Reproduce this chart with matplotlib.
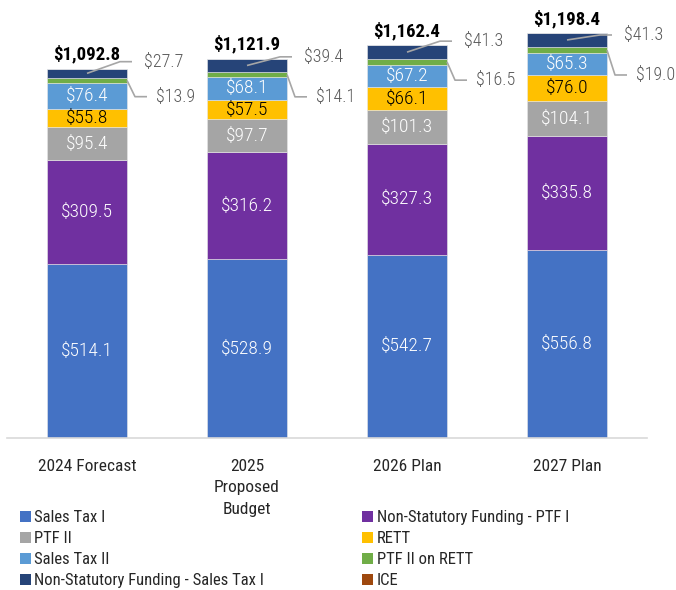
import matplotlib
matplotlib.use("Agg")
import matplotlib.pyplot as plt
from matplotlib.patches import Patch
import numpy as np

plt.rcParams['font.family'] = ['Roboto Condensed', 'DejaVu Sans']

categories = ["2024 Forecast", "2025\nProposed\nBudget", "2026 Plan", "2027 Plan"]
series_names = ["Sales Tax I", "Non-Statutory Funding - PTF I", "PTF II", "RETT",
                "Sales Tax II", "PTF II on RETT", "Non-Statutory Funding - Sales Tax I", "ICE"]
sales_tax_1 = [514.1, 528.9, 542.7, 556.8]
nsf_ptf_1 = [309.5, 316.2, 327.3, 335.8]
ptf_2 = [95.4, 97.7, 101.3, 104.1]
rett = [55.8, 57.5, 66.1, 76.0]
sales_tax_2 = [76.4, 68.1, 67.2, 65.3]
ptf_2_rett = [13.9, 14.1, 16.5, 19.0]
nsf_sales_tax_1 = [27.7, 39.4, 41.3, 41.3]
ice = [0.0, 0.0, 0.0, 0.0]
totals = [1092.8, 1121.9, 1162.4, 1198.4]

colors = ["#4472C4", "#7030A0", "#A5A5A5", "#FFC000",
          "#5B9BD5", "#70AD47", "#264478", "#9E480E"]
label_colors = ["white", "white", "white", "black", "white", None, None, None]

series = [sales_tax_1, nsf_ptf_1, ptf_2, rett, sales_tax_2, ptf_2_rett, nsf_sales_tax_1, ice]

fig = plt.figure(figsize=(6.76, 5.90), dpi=100)
ymax = 1296
ax = fig.add_axes([7 / 676, 152 / 590, 640 / 676, 438 / 590])
x = np.arange(len(categories))
width = 0.5

bottom = np.zeros(len(categories))
for vals, col, lc in zip(series, colors, label_colors):
    vals = np.array(vals)
    ax.bar(x, vals, width, bottom=bottom, color=col, edgecolor="#E8E8E8", linewidth=0.4)
    if lc is not None:
        for xi, b, v in zip(x, bottom, vals):
            ax.text(xi, b + v / 2, f"${v:.1f}", ha="center", va="center",
                    color=lc, fontsize=14, fontweight="light")
    bottom += vals

# pixel -> data conversion
px_y = ymax / 438
px_x = 1 / 160

# totals
for xi, t in zip(x, totals):
    ax.text(xi, t + 5 * px_y, f"${t:,.1f}", ha="center", va="bottom",
            fontsize=13.5, fontweight="bold", color="black")

# outside labels with leader lines
navy_offsets = [7, 2, 4, -2]       # label height above bar top, px
green_offsets = [28, 38, 35, 42]   # label depth below bar top, px
lead = "#A6A6A6"
for i, xi in enumerate(x):
    top = totals[i]
    seg_mid = top - nsf_sales_tax_1[i] / 2
    ly = top + navy_offsets[i] * px_y
    ax.plot([xi, xi + 33 * px_x, xi + 45 * px_x], [seg_mid, ly, ly],
            color=lead, lw=1.2, solid_capstyle="butt")
    ax.text(xi + 57 * px_x, ly, f"${nsf_sales_tax_1[i]:.1f}", ha="left", va="center",
            fontsize=13, color="#595959", fontweight="light")
    g_mid = top - nsf_sales_tax_1[i] - ptf_2_rett[i] / 2
    gy = top - green_offsets[i] * px_y
    ax.plot([xi + 40 * px_x, xi + 48 * px_x, xi + 60 * px_x], [g_mid, gy, gy],
            color=lead, lw=1.2, solid_capstyle="butt")
    ax.text(xi + 69 * px_x, gy, f"${ptf_2_rett[i]:.1f}", ha="left", va="center",
            fontsize=13, color="#595959", fontweight="light")

ax.set_xlim(-0.5, 3.5)
ax.set_ylim(0, ymax)
ax.set_xticks(x)
ax.set_xticklabels(categories, fontsize=12.5, color="#262626", linespacing=1.55)
ax.tick_params(axis="x", length=0, pad=15)
ax.set_yticks([])
for s in ["top", "right", "left"]:
    ax.spines[s].set_visible(False)
ax.spines["bottom"].set_color("#D9D9D9")
ax.spines["bottom"].set_linewidth(1.2)

# legend, ordered to read row-wise
order = [0, 2, 4, 6, 1, 3, 5, 7]
handles = [Patch(facecolor=colors[k], label=series_names[k]) for k in order]
fig.legend(handles=handles, ncol=2, loc="upper left", bbox_to_anchor=(20 / 676, 80 / 590),
           frameon=False, fontsize=12, handlelength=0.65, handleheight=0.65,
           handletextpad=0.2, labelspacing=0.36, columnspacing=5.9,
           borderaxespad=0, borderpad=0, labelcolor="#262626")

fig.savefig("out.png", dpi=100)
